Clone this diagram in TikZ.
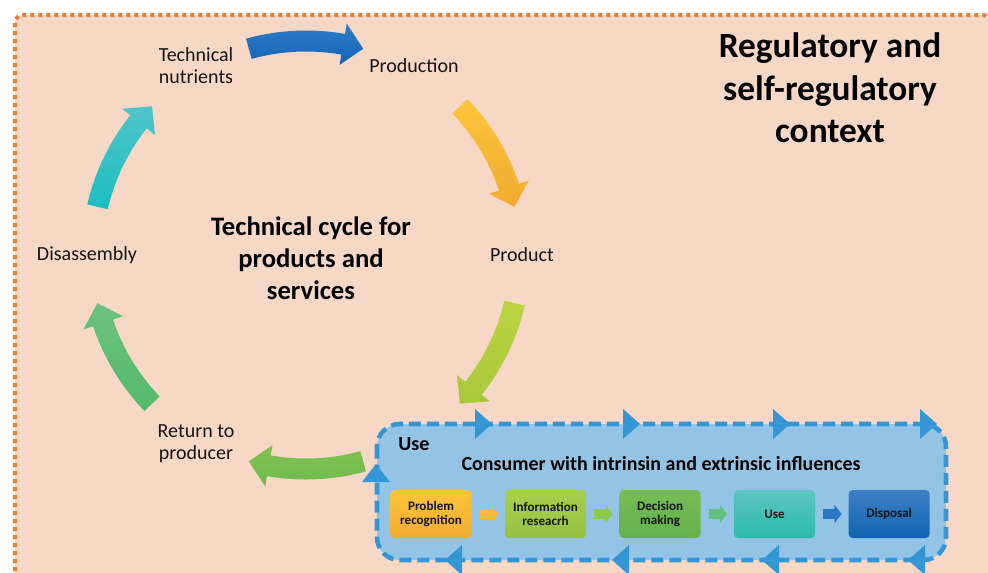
\documentclass[tikz,border=0pt]{standalone}
\usepackage{fontspec}
\setmainfont{Carlito}
\usetikzlibrary{positioning,arrows.meta}

\definecolor{peach}{RGB}{247,216,198}
\definecolor{frameorange}{RGB}{237,125,49}
\definecolor{usefill}{RGB}{148,196,229}
\definecolor{useedge}{RGB}{52,150,212}
\definecolor{bluetop}{RGB}{45,125,200}
\definecolor{bluebot}{RGB}{22,100,182}
\definecolor{yellowtop}{RGB}{253,196,58}
\definecolor{yellowbot}{RGB}{240,172,48}
\definecolor{limetop}{RGB}{188,212,66}
\definecolor{limebot}{RGB}{168,200,60}
\definecolor{greentop}{RGB}{128,194,82}
\definecolor{greenbot}{RGB}{112,186,78}
\definecolor{mintop}{RGB}{108,194,128}
\definecolor{mintbot}{RGB}{84,186,106}
\definecolor{tealtop}{RGB}{80,196,202}
\definecolor{tealbot}{RGB}{28,190,196}
\definecolor{infotop}{RGB}{168,206,78}
\definecolor{infobot}{RGB}{150,194,64}
\definecolor{decitop}{RGB}{118,188,84}
\definecolor{decibot}{RGB}{100,178,76}
\definecolor{usetop}{RGB}{92,198,192}
\definecolor{usebot}{RGB}{44,186,172}
\definecolor{disptop}{RGB}{62,128,198}
\definecolor{dispbot}{RGB}{14,100,176}
\definecolor{arryellow}{RGB}{252,186,48}
\definecolor{arrlime}{RGB}{140,200,74}
\definecolor{arrgreen}{RGB}{96,192,128}
\definecolor{arrblue}{RGB}{40,118,196}
\definecolor{inktext}{RGB}{20,20,20}

\tikzset{
  frame/.style={draw=frameorange,fill=peach,line width=3pt,dash pattern=on 3pt off 3pt,rounded corners=6pt},
  cyclelabel/.style={font=\fontsize{15}{16.5}\selectfont,text=inktext,align=center,inner sep=0.75pt},
  bigtitle/.style={font=\fontsize{20}{24}\selectfont\bfseries,text=black,align=center,inner sep=0.75pt},
  usebox/.style={draw=useedge,fill=usefill,line width=3.4pt,dash pattern=on 9pt off 4.5pt,rounded corners=17pt},
  boxhead/.style={font=\fontsize{15}{17}\selectfont\bfseries,text=black,inner sep=0.75pt},
  stepbox/.style={rounded corners=3pt,minimum width=60.75pt,minimum height=36pt,align=center,
    font=\fontsize{9.8}{10.5}\selectfont\bfseries,text=inktext,inner sep=1pt},
  steparrow/.style={draw=#1,line width=7.5pt,-{Triangle[length=5.5pt,width=13.5pt]},shorten <=6pt,shorten >=5pt},
  flowtri/.style={fill=useedge}
}

% curved block arrow of the cycle: style, middle angle (runs clockwise)
\newcommand{\cyclearrow}[2]{%
  \pgfmathsetmacro\tailA{#2+15.5}%
  \pgfmathsetmacro\tipA{#2-15.5}%
  \pgfmathsetmacro\neckA{#2-10}%
  \path[#1] (\tailA:224.5) arc[start angle=\tailA,end angle=\neckA,radius=224.5]
    -- (\neckA:235) -- (\tipA:214) -- (\neckA:193) -- (\neckA:203.5)
    arc[start angle=\neckA,end angle=\tailA,radius=203.5] -- cycle;
}

\begin{document}
\begin{tikzpicture}[x=0.75pt,y=0.75pt,yscale=-1,xscale=1]
\useasboundingbox (0,0) rectangle (988,572);
\clip (0,0) rectangle (988,572);

%Shape: Rectangle [frame]
\draw[frame] (15,15) rectangle (991,610);

%Shape: cycle arrows
\begin{scope}[shift={(306,255)},yscale=-1]
\cyclearrow{top color=bluetop,bottom color=bluebot}{90}
\cyclearrow{top color=yellowtop,bottom color=yellowbot}{28.5}
\cyclearrow{top color=limetop,bottom color=limebot}{-28.5}
\cyclearrow{top color=greentop,bottom color=greenbot}{-90}
\cyclearrow{top color=mintop,bottom color=mintbot}{-151.5}
\cyclearrow{top color=tealtop,bottom color=tealbot}{151.5}
\end{scope}

% Text Node
\node[cyclelabel] (nutrients) at (196,66) {Technical\\nutrients};
% Text Node
\node[cyclelabel] (production) at (414,66) {Production};
% Text Node
\node[cyclelabel] (product) at (522,255) {Product};
% Text Node
\node[cyclelabel] (disassembly) at (87,255) {Disassembly};
% Text Node
\node[cyclelabel] (return) at (196,444) {Return to\\producer};
% Text Node
\node[bigtitle] (cycletitle) at (311,258) {Technical cycle for\\products and\\services};
% Text Node
\node[bigtitle,font=\fontsize{26.5}{32}\selectfont\bfseries] (context) at (830,88) {Regulatory and\\self-regulatory\\context};

%Shape: Rectangle [use]
\draw[usebox] (377,424) rectangle (946,560);
\foreach \tx in {492,640,790,937}
  \fill[flowtri] (\tx,424) -- ++(-17,-15) -- ++(0,30) -- cycle;
\foreach \tx in {445,612,762,908}
  \fill[flowtri] (\tx,560) -- ++(17,-15) -- ++(0,30) -- cycle;
\fill[flowtri] (376,464) -- ++(-14,18) -- ++(28,0) -- cycle;

% Text Node
\node[boxhead,anchor=west] (uselabel) at (397,444) {Use};
% Text Node
\node[boxhead] (consumer) at (661,464) {Consumer with intrinsin and extrinsic influences};

% steps
\node[stepbox,top color=yellowtop,bottom color=yellowbot] (problem) at (431,514) {Problem\\recognition};
\node[stepbox,top color=infotop,bottom color=infobot,right=24.75pt of problem] (information) {Information\\reseacrh};
\node[stepbox,top color=decitop,bottom color=decibot,right=24.75pt of information] (decision) {Decision\\making};
\node[stepbox,top color=usetop,bottom color=usebot,right=24.75pt of decision] (usestep) {Use};
\node[stepbox,top color=disptop,bottom color=dispbot,right=24.75pt of usestep] (disposal) {Disposal};

\draw[steparrow=arryellow] (problem) -- (information);
\draw[steparrow=arrlime] (information) -- (decision);
\draw[steparrow=arrgreen] (decision) -- (usestep);
\draw[steparrow=arrblue] (usestep) -- (disposal);

\end{tikzpicture}
\end{document}
